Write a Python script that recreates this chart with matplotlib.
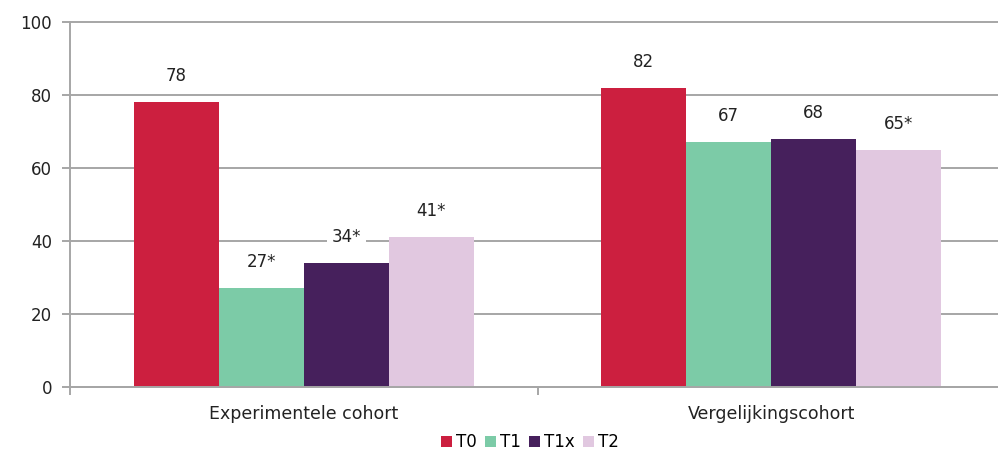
import matplotlib.pyplot as plt
import numpy as np

# cohorts and measurement moments
cohorts = ['Experimentele cohort', 'Vergelijkingscohort']
series = ['T0', 'T1', 'T1x', 'T2']
values = {
    'T0': [78, 82],
    'T1': [27, 67],
    'T1x': [34, 68],
    'T2': [41, 65],
}
value_labels = {
    'T0': ['78', '82'],
    'T1': ['27*', '67'],
    'T1x': ['34*', '68'],
    'T2': ['41*', '65*'],
}
colors = ['#CC1F3F', '#7CCBA7', '#46205C', '#E1C8E0']

fig = plt.figure(figsize=(9.98, 4.57), dpi=100)
ax = fig.add_axes([70 / 998, 70 / 457, 935 / 998, 365 / 457])

x = np.arange(len(cohorts))
width = 0.182
for i, (name, color) in enumerate(zip(series, colors)):
    pos = x + (i - 1.5) * width
    bars = ax.bar(pos, values[name], width, color=color, label=name, zorder=2)
    for bar, lab in zip(bars, value_labels[name]):
        ax.annotate(lab, (bar.get_x() + bar.get_width() / 2, bar.get_height()),
                    xytext=(0, 26), textcoords='offset pixels',
                    ha='center', va='center', fontsize=12, color='#222222',
                    bbox=dict(boxstyle='square,pad=0.3', fc='white', ec='none'),
                    zorder=3)

ax.set_ylim(0, 100)
ax.set_xlim(-0.5, 1.5)
ax.set_yticks(range(0, 101, 20))
ax.yaxis.grid(True, color='#A6A6A6', linewidth=1.4, zorder=0)
for gl in ax.get_ygridlines():
    gl.set_clip_on(False)
ax.set_axisbelow(True)

# category boundaries as ticks, names as minor labels
ax.set_xticks([-0.5, 0.5])
ax.set_xticklabels([])
ax.set_xticks(x, minor=True)
ax.set_xticklabels(cohorts, minor=True, fontsize=12.5, color='#222222')
ax.tick_params(axis='x', which='minor', length=0, pad=13)
ax.tick_params(axis='x', which='major', length=6, color='#A6A6A6', width=1.4)
ax.tick_params(axis='y', length=6, color='#A6A6A6', width=1.4,
               labelsize=12, labelcolor='#222222', pad=7)

for side in ['top', 'right']:
    ax.spines[side].set_visible(False)
for side in ['left', 'bottom']:
    ax.spines[side].set_color('#A6A6A6')
    ax.spines[side].set_linewidth(1.4)

fig.legend(loc='center', bbox_to_anchor=(530 / 998, 1 - 442 / 457), ncol=4,
           frameon=False, fontsize=12, handlelength=0.65, handleheight=0.65,
           handletextpad=0.25, columnspacing=0.5)

fig.savefig('out.png', dpi=100)
